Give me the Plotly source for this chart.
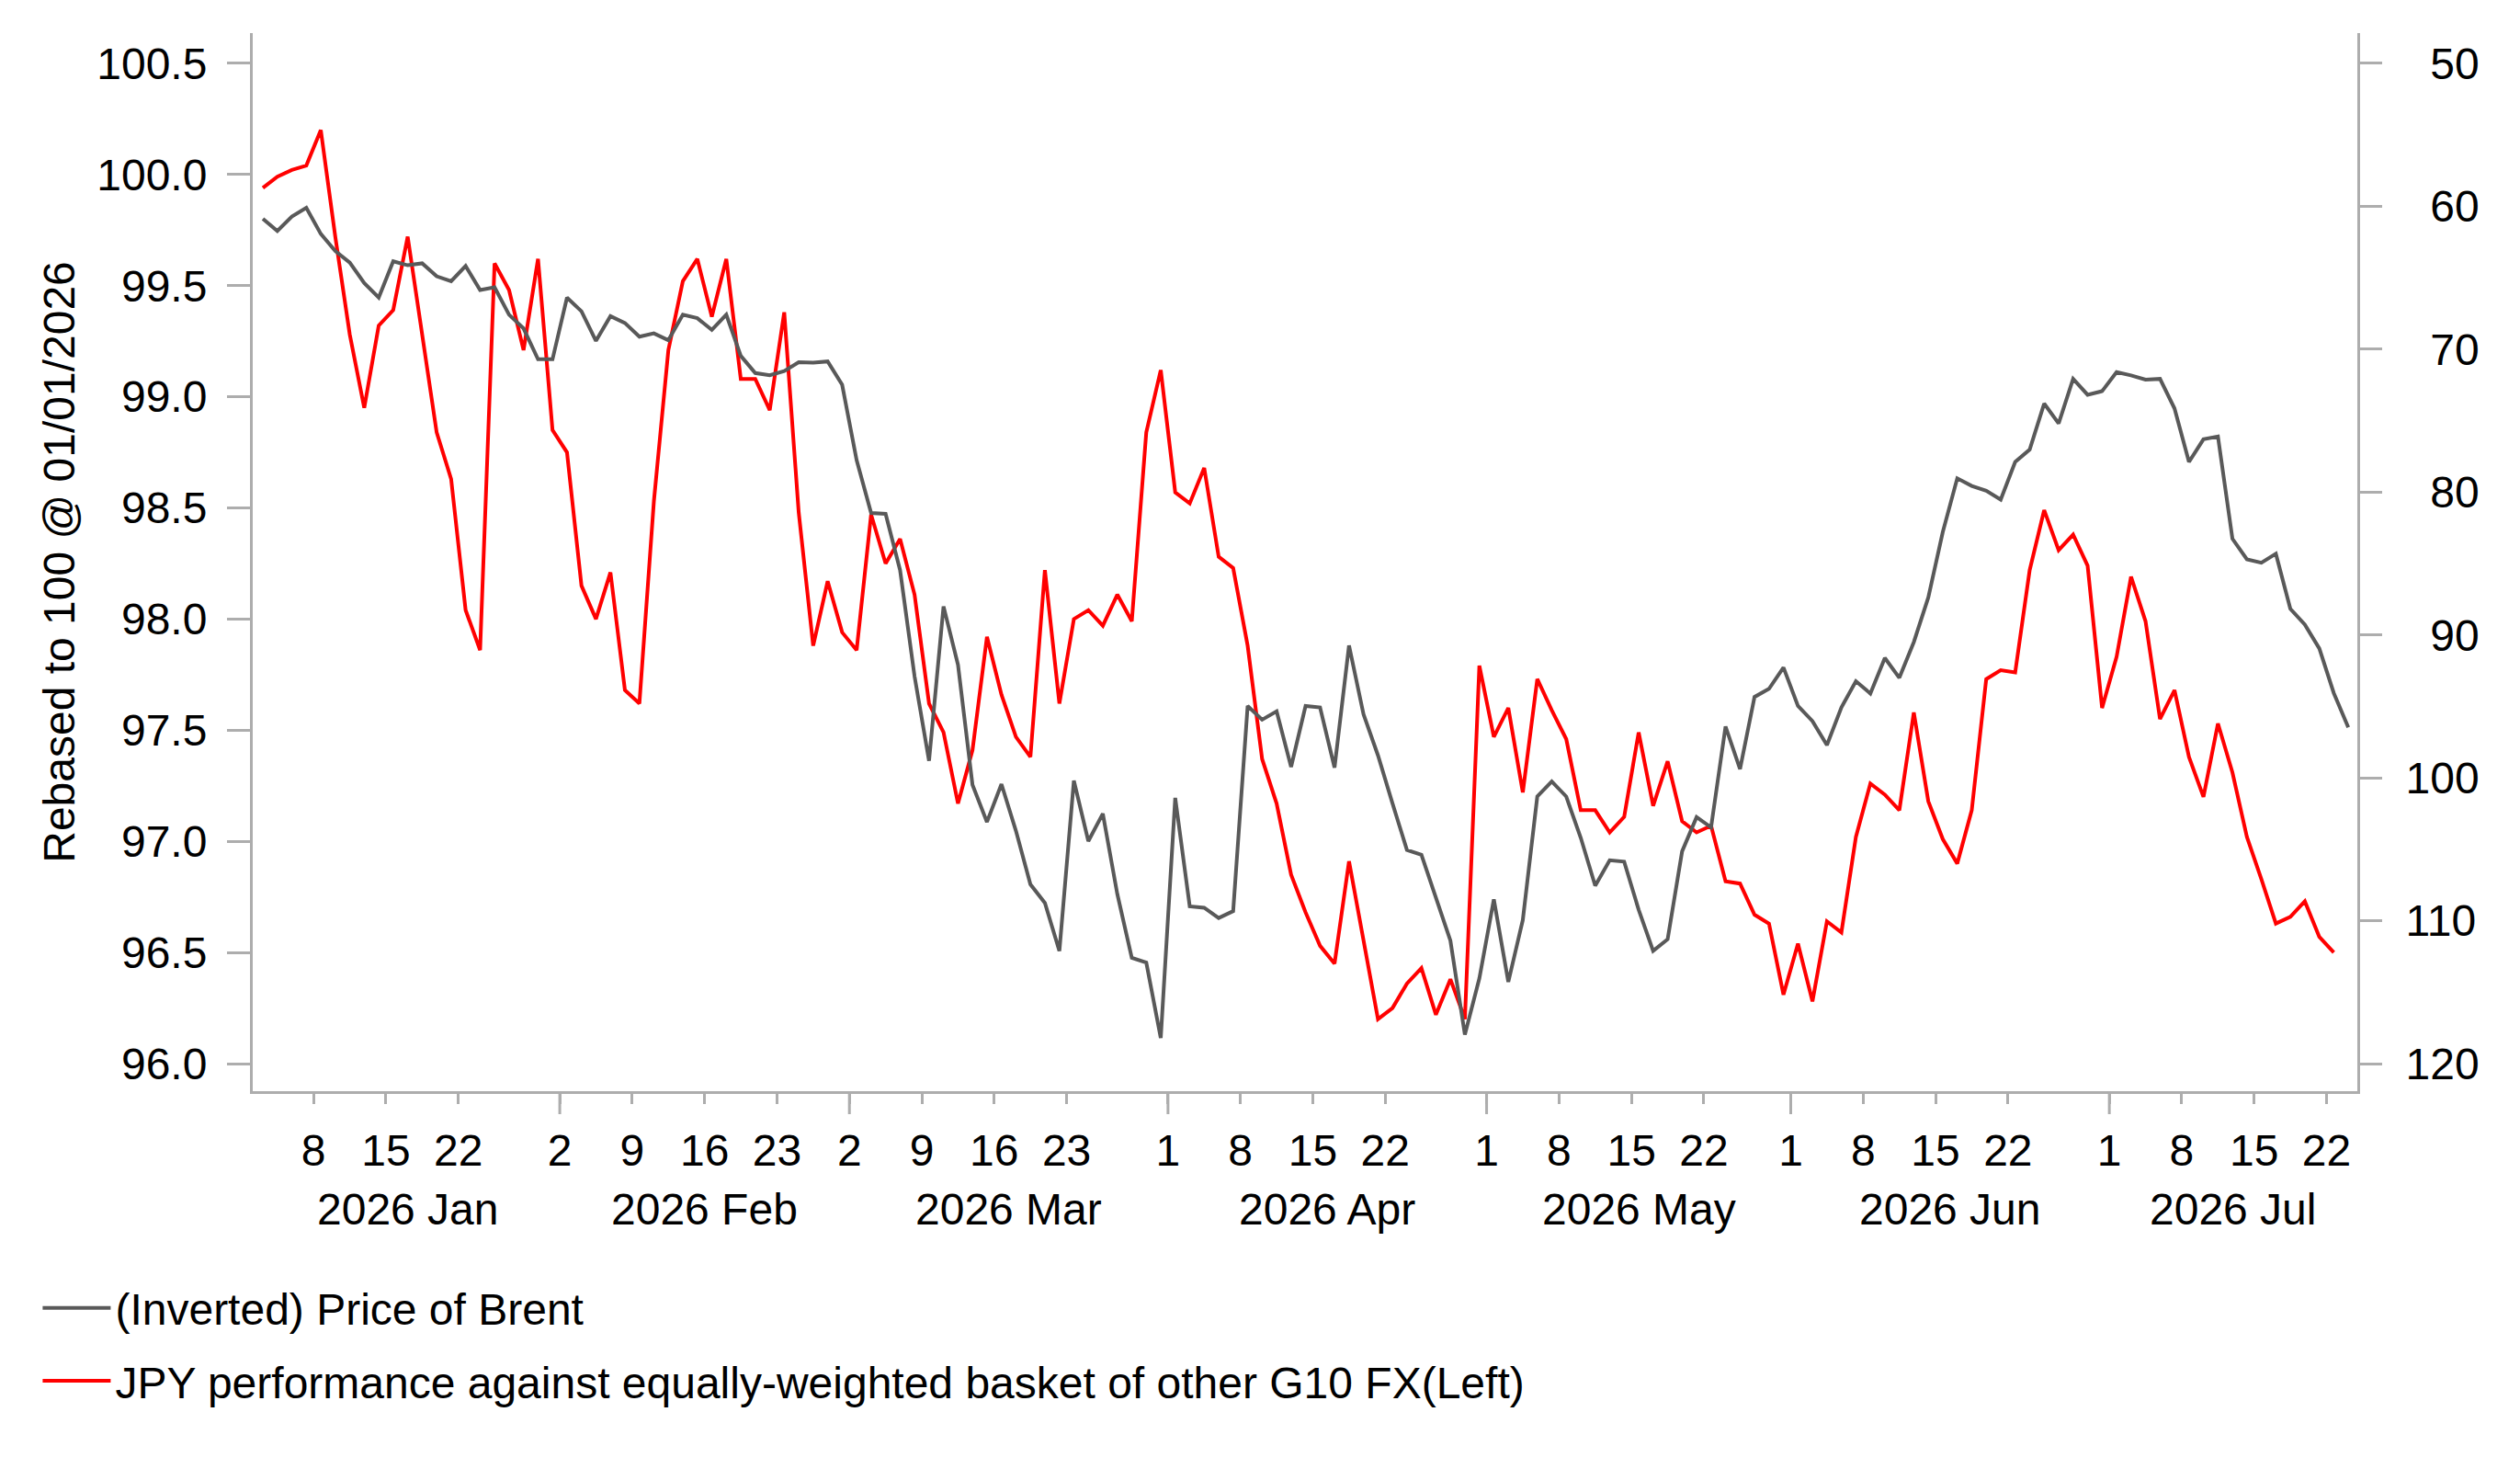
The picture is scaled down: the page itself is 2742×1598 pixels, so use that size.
import numpy as np
import pandas as pd
import plotly.graph_objects as go

# business days covered by the chart (Brent runs one day longer than the JPY basket)
dates = pd.bdate_range("2026-01-02", "2026-07-23")

# (Inverted) Brent price, right axis
brent_inverted = [
    60.87, 61.73, 60.72, 60.10, 61.93, 63.13, 63.94, 65.38, 66.39, 63.85,
    64.13, 63.99, 64.90, 65.24, 64.18, 65.86, 65.67, 67.59, 68.55, 70.71,
    70.71, 66.39, 67.35, 69.42, 67.69, 68.17, 69.13, 68.89, 69.37, 67.59,
    67.83, 68.65, 67.59, 70.47, 71.67, 71.82, 71.53, 70.91, 70.95, 70.86,
    72.49, 77.77, 81.47, 81.52, 85.46, 92.90, 98.81, 88.00, 92.09, 100.49,
    103.09, 100.44, 103.71, 107.46, 108.75, 112.12, 100.20, 104.43, 102.51, 108.13,
    112.60, 112.93, 118.21, 101.40, 108.99, 109.09, 109.81, 109.33, 94.97, 95.93,
    95.35, 99.24, 94.97, 95.07, 99.29, 90.74, 95.55, 98.43, 101.79, 105.05,
    105.39, 108.42, 111.39, 117.97, 114.04, 108.51, 114.28, 109.95, 101.31, 100.25,
    101.31, 104.19, 107.55, 105.77, 105.87, 109.23, 112.11, 111.30, 105.15, 102.75,
    103.47, 96.41, 99.39, 94.34, 93.77, 92.28, 94.97, 96.03, 97.71, 95.07,
    93.24, 94.10, 91.61, 93.00, 90.50, 87.38, 82.80, 79.04, 79.57, 79.91,
    80.53, 77.89, 77.03, 73.81, 75.20, 72.08, 73.19, 72.94, 71.60, 71.84,
    72.13, 72.08, 74.15, 77.89, 76.31, 76.11, 83.27, 84.71, 84.95, 84.32,
    88.17, 89.27, 90.95, 94.07, 96.47,
]

# JPY vs equally-weighted G10 basket, rebased, left axis
jpy_basket = [
    99.94, 99.99, 100.02, 100.04, 100.20, 99.72, 99.28, 98.95, 99.32, 99.39,
    99.72, 99.29, 98.84, 98.63, 98.04, 97.86, 99.60, 99.48, 99.21, 99.62,
    98.85, 98.75, 98.15, 98.00, 98.21, 97.68, 97.62, 98.53, 99.21, 99.52,
    99.62, 99.36, 99.62, 99.08, 99.08, 98.94, 99.38, 98.48, 97.88, 98.17,
    97.94, 97.86, 98.47, 98.25, 98.36, 98.11, 97.62, 97.49, 97.17, 97.41,
    97.92, 97.66, 97.47, 97.38, 98.22, 97.62, 98.00, 98.04, 97.97, 98.11,
    97.99, 98.84, 99.12, 98.57, 98.52, 98.68, 98.28, 98.23, 97.88, 97.37,
    97.17, 96.85, 96.68, 96.53, 96.45, 96.91, 96.55, 96.20, 96.25, 96.36,
    96.43, 96.22, 96.38, 96.20, 97.79, 97.47, 97.60, 97.22, 97.73, 97.59,
    97.46, 97.14, 97.14, 97.04, 97.11, 97.49, 97.16, 97.36, 97.09, 97.04,
    97.07, 96.82, 96.81, 96.67, 96.63, 96.31, 96.54, 96.28, 96.64, 96.59,
    97.02, 97.26, 97.21, 97.14, 97.58, 97.18, 97.01, 96.90, 97.14, 97.73,
    97.77, 97.76, 98.22, 98.49, 98.31, 98.38, 98.24, 97.60, 97.83, 98.19,
    97.99, 97.55, 97.68, 97.38, 97.20, 97.53, 97.31, 97.02, 96.83, 96.63,
    96.66, 96.73, 96.57, 96.50,
]

day_ticks = [
    "2026-01-08", "2026-01-15", "2026-01-22",
    "2026-02-02", "2026-02-09", "2026-02-16", "2026-02-23",
    "2026-03-02", "2026-03-09", "2026-03-16", "2026-03-23",
    "2026-04-01", "2026-04-08", "2026-04-15", "2026-04-22",
    "2026-05-01", "2026-05-08", "2026-05-15", "2026-05-22",
    "2026-06-01", "2026-06-08", "2026-06-15", "2026-06-22",
    "2026-07-01", "2026-07-08", "2026-07-15", "2026-07-22",
]
month_starts = ["2026-02-02", "2026-03-02", "2026-04-01", "2026-05-01", "2026-06-01", "2026-07-01"]
left_ticks = [96.0, 96.5, 97.0, 97.5, 98.0, 98.5, 99.0, 99.5, 100.0, 100.5]
right_ticks = [50, 60, 70, 80, 90, 100, 110, 120]

AXIS_GREY = "#ADADAD"
FONT = "Liberation Sans"
PLOT_H = 1598 - 36 - 411

# each day sits in the middle of its slot, ticks fall on slot boundaries
x_pts = dates + pd.Timedelta(hours=12)
x_range = [dates[0] - pd.Timedelta(hours=4.8), dates[-1] + pd.Timedelta(hours=27)]
breaks = [dict(bounds=["sat", "mon"])]

fig = go.Figure()

fig.add_trace(go.Scatter(
    x=x_pts, y=brent_inverted, name="(Inverted) Price of Brent",
    mode="lines", line=dict(color="#595959", width=4), yaxis="y2",
    legendgroup="a",
))
fig.add_trace(go.Scatter(
    x=x_pts[:len(jpy_basket)], y=jpy_basket,
    name="JPY performance against equally-weighted basket of other G10 FX(Left)",
    mode="lines", line=dict(color="#FF0000", width=4), yaxis="y",
    legendgroup="b",
))

# month labels centred under each month's span
month_idx = pd.Series(range(len(dates)), index=dates).groupby(dates.to_period("M"))
for period, idx in month_idx:
    mid = (idx.iloc[0] + idx.iloc[-1]) / 2
    j = int(np.floor(mid + 0.5))
    x_mid = dates[j] + pd.Timedelta(days=mid + 0.5 - j)
    fig.add_annotation(
        x=x_mid, y=-0.112, xref="x", yref="paper", yanchor="middle",
        text=period.strftime("%Y %b"), showarrow=False,
        font=dict(family=FONT, size=48, color="black"),
    )

# longer ticks at the start of each month
for d in month_starts:
    fig.add_shape(
        type="line", xref="x", yref="paper",
        x0=d, x1=d, y0=0, y1=-25 / PLOT_H,
        line=dict(color=AXIS_GREY, width=3),
    )

fig.update_layout(
    width=2742,
    height=1598,
    margin=dict(l=275, r=177, t=36, b=411),
    plot_bgcolor="white",
    paper_bgcolor="white",
    font=dict(family=FONT, size=48, color="black"),
    legend=dict(
        x=-0.102, y=-0.172, xanchor="left", yanchor="top",
        orientation="v", tracegroupgap=14, itemwidth=74,
        font=dict(family=FONT, size=48, color="black"),
    ),
    xaxis=dict(
        type="date", range=x_range, rangebreaks=breaks,
        tickvals=day_ticks, ticktext=[str(pd.Timestamp(d).day) for d in day_ticks],
        ticks="outside", ticklen=11, tickwidth=3, tickcolor=AXIS_GREY,
        ticklabelstandoff=9,
        showline=True, linecolor=AXIS_GREY, linewidth=3,
        showgrid=False, zeroline=False,
    ),
    yaxis=dict(
        range=[95.876, 100.636], tickvals=left_ticks, tickformat=".1f",
        ticks="outside", ticklen=25, tickwidth=3, tickcolor=AXIS_GREY,
        ticklabelstandoff=12,
        showline=True, linecolor=AXIS_GREY, linewidth=3,
        showgrid=False, zeroline=False,
        title=dict(text="Rebased to 100 @ 01/01/2026", standoff=9,
                   font=dict(family=FONT, size=48, color="black")),
    ),
    yaxis2=dict(
        range=[121.93, 47.88], overlaying="y", side="right", anchor="x",
        tickvals=right_ticks,
        ticktext=["\u2007" * (3 - len(str(v))) + str(v) for v in right_ticks],
        ticks="outside", ticklen=24, tickwidth=3, tickcolor=AXIS_GREY,
        ticklabelstandoff=16,
        showline=True, linecolor=AXIS_GREY, linewidth=3,
        showgrid=False, zeroline=False,
    ),
)

fig.write_html(
    "out.html",
    config={"displayModeBar": False},
    post_script="document.body.style.margin='0';",
)
